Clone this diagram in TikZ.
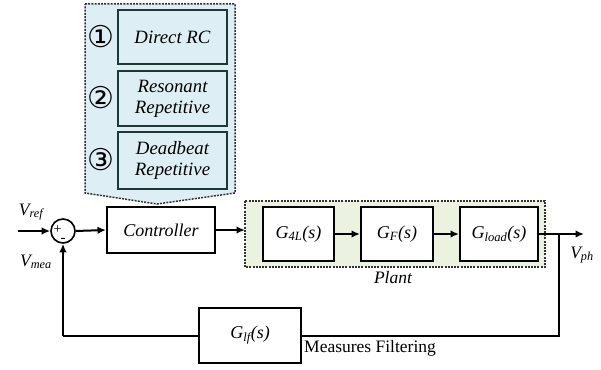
\documentclass[tikz,border=0pt]{standalone}
\usepackage{fontspec}
\setmainfont{Liberation Serif}
\newfontfamily\symfont{DejaVu Sans}
\usetikzlibrary{arrows.meta}
\definecolor{bluefill}{HTML}{DDEEF4}
\definecolor{greenfill}{HTML}{ECF2E0}
\definecolor{tealdark}{HTML}{1E3838}
\tikzset{
  blk/.style={draw=black, line width=2pt, fill=white, minimum height=54pt, align=center, font=\fontsize{18}{19}\selectfont\itshape, inner sep=1pt},
  rcbox/.style={draw=tealdark, line width=2pt, minimum width=109pt, align=center, font=\fontsize{18.8}{21}\selectfont\itshape, inner sep=1pt},
  num/.style={font=\symfont\fontsize{30}{30}\selectfont, inner sep=0pt},
  conn/.style={line width=2pt, -{Latex[length=8.5pt,width=7.5pt]}},
  wire/.style={line width=2pt},
  lbl/.style={font=\fontsize{17.5}{19}\selectfont\itshape, inner sep=0pt},
}
\begin{document}
\begin{tikzpicture}[x=1pt,y=-1pt]
\useasboundingbox (0,0) rectangle (601,369);
% controller options region
\path[draw=black!80, dash pattern=on 2pt off 1.2pt, line width=1.5pt, fill=bluefill]
  (85,4) -- (235,4) -- (235,193) -- (157,204) -- (85,193) -- cycle;
\node[rcbox, minimum height=54pt] (dir) at (172.5,37) {Direct RC};
\node[rcbox, minimum height=55pt] (res) at (172.5,98.5) {Resonant\\Repetitive};
\node[rcbox, minimum height=57pt] (dead) at (172.5,160.5) {Deadbeat\\Repetitive};
\node[num] (n1) at (101,37) {①};
\node[num] (n2) at (101,98) {②};
\node[num] (n3) at (101,160) {③};
% plant region
\path[draw=black!80, dash pattern=on 2pt off 1.2pt, line width=1.5pt, fill=greenfill]
  (245,201) rectangle (545,267);
\node[lbl] (plantlbl) at (393,278) {Plant};
% blocks
\node[circle, draw, line width=1.6pt, minimum size=24pt, inner sep=0pt] (sum) at (63,231) {};
\node[font=\fontsize{14}{14}\selectfont, inner sep=0pt] (plus) at (57.5,230) {+};
\node[font=\fontsize{15}{15}\selectfont, inner sep=0pt] (minus) at (63,240) {-};
\node[blk, minimum width=108pt, minimum height=46pt] (ctrl) at (161,230) {Controller};
\node[blk, minimum width=71pt] (g4l) at (298.5,234) {\textit{G}\textsubscript{\textit{4L}}\textit{(s)}};
\node[blk, minimum width=72pt] (gf) at (397,234) {\textit{G}\textsubscript{\textit{F}}\textit{(s)}};
\node[blk, minimum width=78pt] (gload) at (499,234) {\textit{G}\textsubscript{\textit{load}}\textit{(s)}};
\node[blk, minimum width=102pt, minimum height=55pt] (glf) at (250,335.5) {\textit{G}\textsubscript{\textit{lf}}\textit{(s)}};
% coordinates
\coordinate (in) at (18,231);
\coordinate (out) at (584,234);
\coordinate (br) at (559,234);
\coordinate (brd) at (559,335.5);
\coordinate (fbl) at (63,335.5);
% connectors
\draw[conn] (in) -- (sum.west);
\draw[conn] (sum.east) -- (ctrl.west);
\draw[conn] (ctrl.east) -- (245,230);
\draw[conn] (g4l.east) -- (gf.west);
\draw[conn] (gf.east) -- (gload.west);
\draw[conn] (gload.east) -- (out);
\draw[wire] (br) -- (brd) -- (glf.east);
\draw[wire] (glf.west) -- (fbl);
\draw[conn] (fbl) -- (sum.south);
% labels
\node[lbl] (vref) at (31,212) {V\textsubscript{ref}};
\node[lbl] (vmea) at (36,262) {V\textsubscript{mea}};
\node[lbl] (vph) at (582,255) {V\textsubscript{ph}};
\node[font=\fontsize{17.5}{19}\selectfont, inner sep=0pt, anchor=west] (mf) at (304,348) {Measures Filtering};
\end{tikzpicture}
\end{document}
